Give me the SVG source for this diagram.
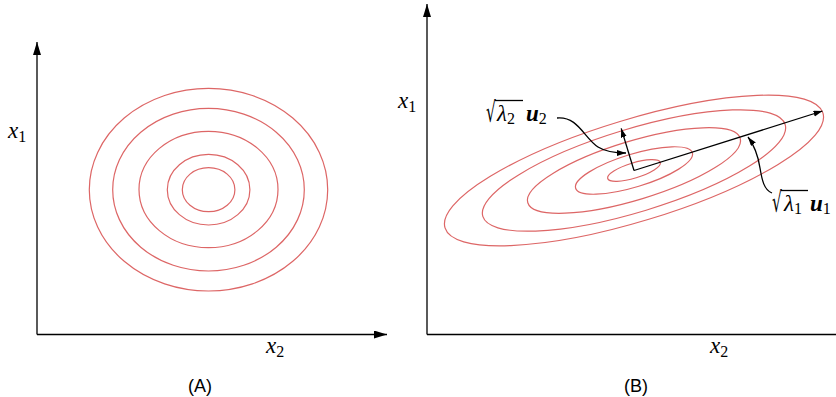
<svg xmlns="http://www.w3.org/2000/svg" width="836" height="397" viewBox="0 0 836 397">
<defs>
<style>
.axis{stroke:#000;stroke-width:1.3;fill:none}
.ptr{stroke:#000;stroke-width:1.3;fill:none}
.ct{stroke:#dd6666;stroke-width:1.2;fill:none}
.m{font-family:"Liberation Serif","Times New Roman",serif;font-style:italic;font-size:23px;fill:#000}
.sub{font-family:"Liberation Serif","Times New Roman",serif;font-style:normal;font-weight:normal;font-size:16px;fill:#000}
.bu{font-family:"Liberation Serif","Times New Roman",serif;font-style:italic;font-weight:bold;font-size:23px;fill:#000}
.rad{font-family:"DejaVu Serif",serif;font-size:28px;fill:#000}
.vin{stroke:#000;stroke-width:1.3}
.cap{font-family:"Liberation Sans",Arial,sans-serif;font-size:18px;fill:#000;text-anchor:middle}
</style>
<marker id="ah" markerUnits="userSpaceOnUse" markerWidth="14" markerHeight="9" refX="13" refY="4" orient="auto">
<path d="M0,0 L13,4 L0,8 z" fill="#000"/>
</marker>
<marker id="as" markerUnits="userSpaceOnUse" markerWidth="10" markerHeight="7" refX="9" refY="3" orient="auto">
<path d="M0,0 L9,3 L0,6 z" fill="#000"/>
</marker>
</defs>
<rect width="836" height="397" fill="#fff"/>

<g id="panelA">
<g id="axesA">
<line class="axis" x1="37" y1="334.5" x2="37" y2="42" marker-end="url(#ah)"/>
<line class="axis" x1="37" y1="334.5" x2="387" y2="334.5" marker-end="url(#ah)"/>
</g>
<g id="contoursA">
<ellipse class="ct" cx="208.5" cy="189.7" rx="119.2" ry="101.3"/>
<ellipse class="ct" cx="208.5" cy="189.7" rx="95.8" ry="81.3"/>
<ellipse class="ct" cx="208.5" cy="189.5" rx="69.5" ry="58.2"/>
<ellipse class="ct" cx="208.6" cy="189.7" rx="41.3" ry="35.3"/>
<ellipse class="ct" cx="208.6" cy="189.7" rx="26.3" ry="22"/>
</g>
<g id="labelsA">
<text class="m" x="8" y="138">x<tspan class="sub" dy="4">1</tspan></text>
<text class="m" x="266" y="353">x<tspan class="sub" dy="4">2</tspan></text>
<text class="cap" x="200" y="392">(A)</text>
</g>
</g>

<g id="panelB">
<g id="axesB">
<line class="axis" x1="427" y1="334.5" x2="427" y2="4" marker-end="url(#ah)"/>
<line class="axis" x1="427" y1="334.5" x2="849" y2="334.5" marker-end="url(#ah)"/>
</g>
<g id="contoursB" transform="translate(634,170.5) rotate(-16.9)">
<ellipse class="ct" cx="0" cy="0" rx="197.5" ry="51"/>
<ellipse class="ct" cx="0" cy="0" rx="158" ry="41.5"/>
<ellipse class="ct" cx="0" cy="0" rx="111" ry="29.4"/>
<ellipse class="ct" cx="0" cy="0" rx="61" ry="16.5"/>
<ellipse class="ct" cx="0" cy="0" rx="27.5" ry="7.6"/>
</g>
<g id="labelsB">
<text class="m" x="398" y="108">x<tspan class="sub" dy="4">1</tspan></text>
<text class="m" x="710" y="353">x<tspan class="sub" dy="4">2</tspan></text>
<text class="cap" x="636" y="392">(B)</text>
</g>
</g>

<g id="connectors">
<line class="ptr" x1="634" y1="170.5" x2="822.5" y2="111" marker-end="url(#as)"/>
<line class="ptr" x1="634" y1="170.5" x2="621.2" y2="128.4" marker-end="url(#as)"/>
<path class="ptr" d="M557,118 C578,116 584,138 598,147 C606,152 615,153 626,153" marker-end="url(#as)"/>
<path class="ptr" d="M772,193 C764,190 762,180 760,168 C758,155 754,145 748,137" marker-end="url(#as)"/>
</g>

<g id="label-u2">
<text class="rad" transform="translate(486,122) scale(0.55,1)">√</text>
<line class="vin" x1="495" y1="100.5" x2="523" y2="100.5"/>
<text class="m" x="497" y="121">λ<tspan class="sub" dy="3">2</tspan></text>
<text class="bu" x="526" y="121">u<tspan class="sub" dy="3">2</tspan></text>
</g>
<g id="label-u1">
<text class="rad" transform="translate(772,212) scale(0.55,1)">√</text>
<line class="vin" x1="781" y1="190.5" x2="808" y2="190.5"/>
<text class="m" x="784" y="211">λ<tspan class="sub" dy="3">1</tspan></text>
<text class="bu" x="810" y="211">u<tspan class="sub" dy="3">1</tspan></text>
</g>
</svg>
